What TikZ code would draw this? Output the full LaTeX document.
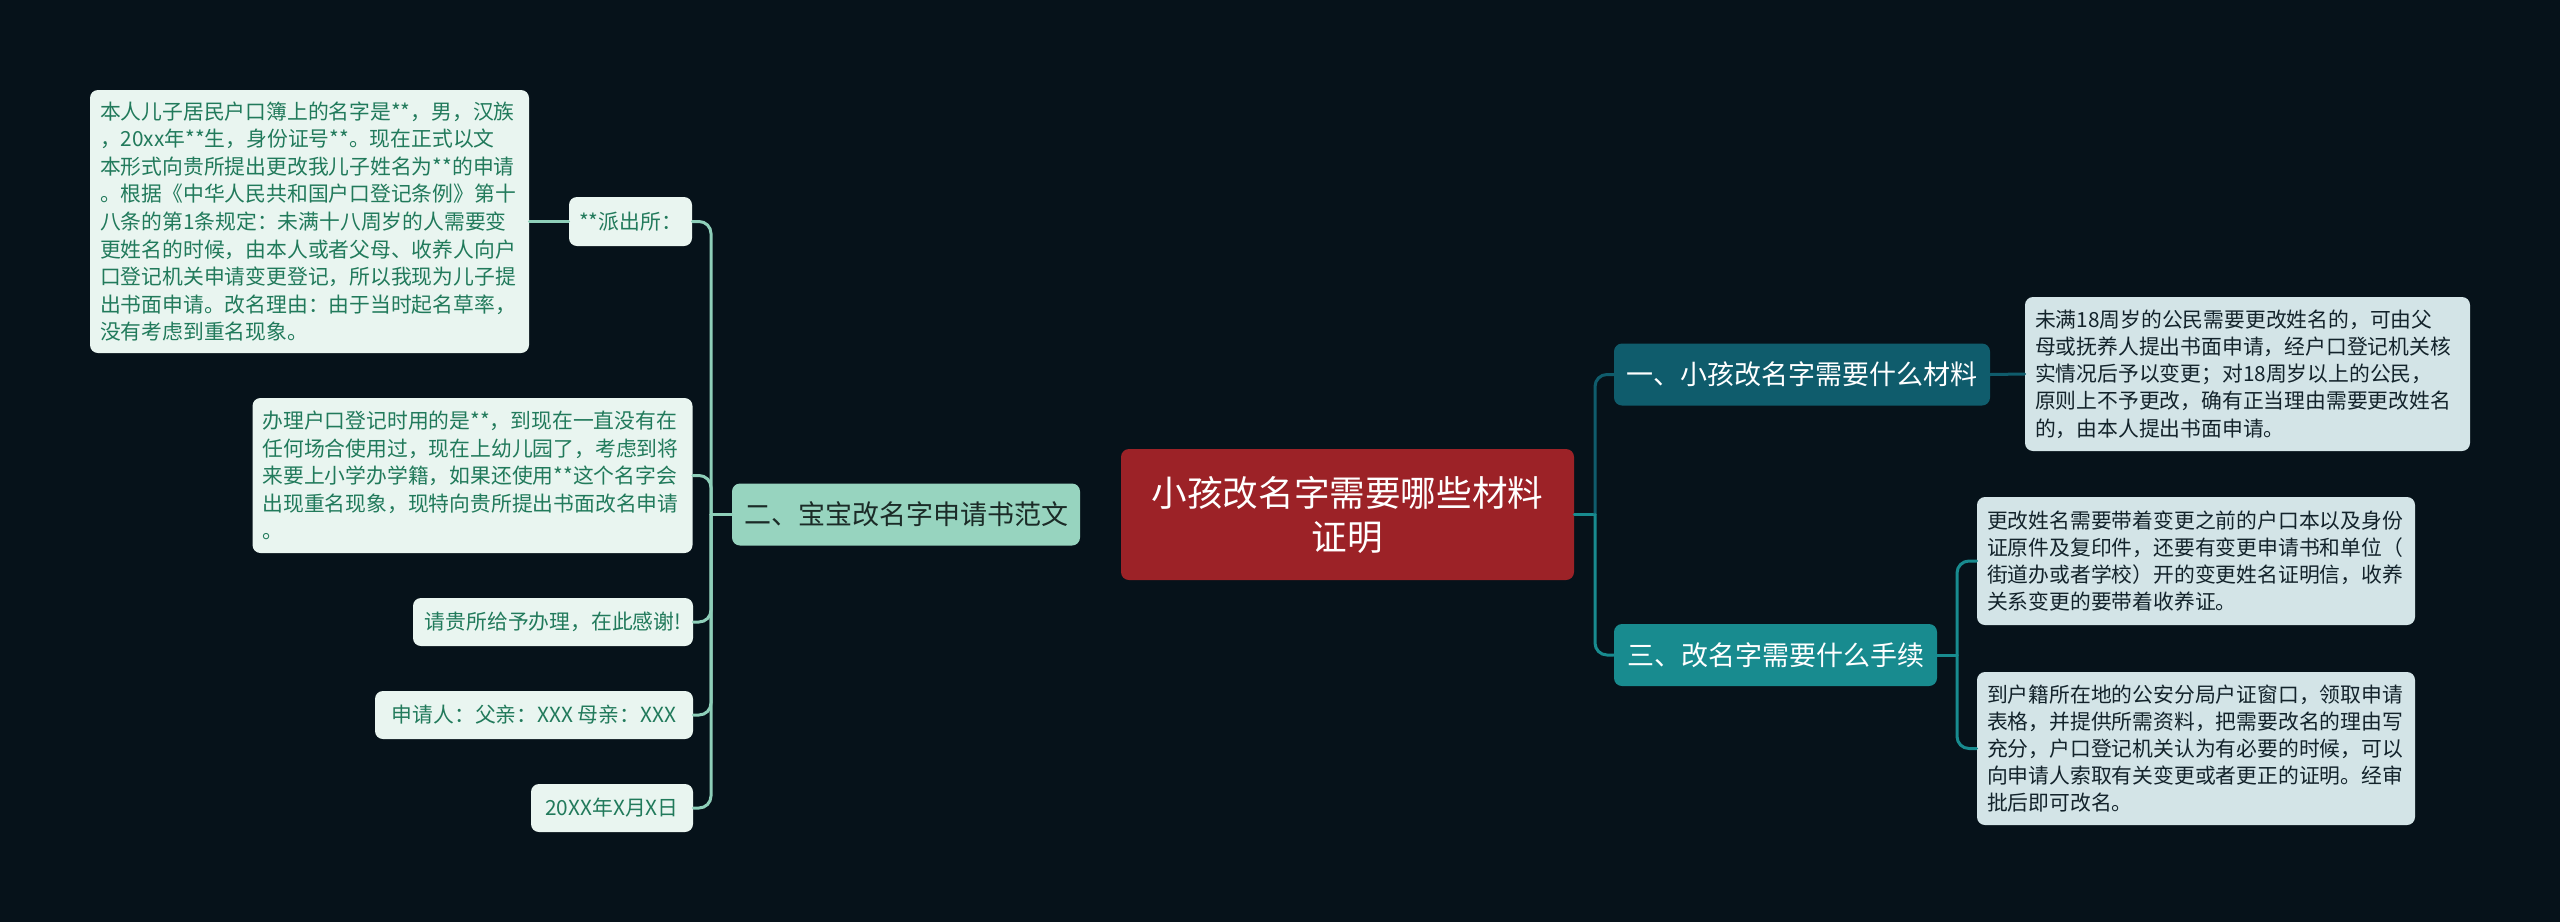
\documentclass[tikz,border=0pt]{standalone}
\usepackage{fontspec}
\setmainfont{Noto Sans CJK SC}
\definecolor{MapPaper}{HTML}{06121A}
\definecolor{MapRoot}{HTML}{9C2227}
\definecolor{MapMint}{HTML}{97D4BF}
\definecolor{MapMintLine}{HTML}{8ECFB9}
\definecolor{MapMintLeaf}{HTML}{E9F5F0}
\definecolor{MapMintInk}{HTML}{217A5B}
\definecolor{MapBranchInk}{HTML}{1B2B27}
\definecolor{MapDeep}{HTML}{0F5C6C}
\definecolor{MapTeal}{HTML}{188B8F}
\definecolor{MapBlueLeaf}{HTML}{D3E4E7}
\definecolor{MapBlueInk}{HTML}{13232B}
\tikzset{
    map/diagram/.style={
        x=0.5pt, y=-0.5pt,
        line cap=round,
        line join=round
    },
    map/box/.style={rounded corners=4pt, inner sep=0pt, draw=none},
    map/root/.style={
        map/box, fill=MapRoot, text=white, align=center,
        minimum width=226.5pt, minimum height=65.5pt,
        font=\fontsize{17.8}{22}\selectfont
    },
    map/branch/.style={
        map/box, minimum height=31pt,
        font=\fontsize{13.5}{16}\selectfont
    },
    map/leftleaf/.style={
        map/box, fill=MapMintLeaf, text=MapMintInk,
        font=\fontsize{10.4}{13.8}\selectfont
    },
    map/rightleaf/.style={
        map/box, fill=MapBlueLeaf, text=MapBlueInk,
        font=\fontsize{10.4}{13.6}\selectfont
    },
    map/para/.style={align=left, inner xsep=5pt, text width=#1},
    map/mintline/.style={draw=MapMintLine, line width=1.5pt},
    map/deepline/.style={draw=MapDeep, line width=1.5pt},
    map/tealline/.style={draw=MapTeal, line width=1.5pt}
}
\begin{document}
\begin{tikzpicture}[map/diagram]
    \fill[MapPaper] (0,0) rectangle (2560,922);
    \useasboundingbox (0,0) rectangle (2560,922);

    \node[map/root] (root) at (1347.5,514.5) {小孩改名字需要哪些材料\\证明};

    \node[map/branch, fill=MapMint, text=MapBranchInk, minimum width=174pt]
        (b2) at (906,514.5) {二、宝宝改名字申请书范文};
    \node[map/branch, fill=MapDeep, text=white, minimum width=188pt]
        (b1) at (1802,374.5) {一、小孩改名字需要什么材料};
    \node[map/branch, fill=MapTeal, text=white, minimum width=161.5pt]
        (b3) at (1775.5,655) {三、改名字需要什么手续};

    % left side: letter to the police station
    \node[map/leftleaf, map/para=209.5pt, minimum height=131.5pt] (l1) at (309.5,221.5)
        {本人儿子居民户口簿上的名字是**，男，汉族\\
         ，20xx年**生，身份证号**。现在正式以文\\
         本形式向贵所提出更改我儿子姓名为**的申请\\
         。根据《中华人民共和国户口登记条例》第十\\
         八条的第1条规定：未满十八周岁的人需要变\\
         更姓名的时候，由本人或者父母、收养人向户\\
         口登记机关申请变更登记，所以我现为儿子提\\
         出书面申请。改名理由：由于当时起名草率，\\
         没有考虑到重名现象。};
    \node[map/leftleaf, minimum width=61.5pt, minimum height=24.5pt] (p) at (630.5,221.5)
        {**派出所：};
    \node[map/leftleaf, map/para=210pt, minimum height=77.5pt] (l2) at (472.5,475.5)
        {办理户口登记时用的是**，到现在一直没有在\\
         任何场合使用过，现在上幼儿园了，考虑到将\\
         来要上小学办学籍，如果还使用**这个名字会\\
         出现重名现象，现特向贵所提出书面改名申请\\
         。};
    \node[map/leftleaf, minimum width=140pt, minimum height=24pt] (s1) at (553,622)
        {请贵所给予办理，在此感谢!};
    \node[map/leftleaf, minimum width=159pt, minimum height=24pt] (s2) at (534,715)
        {申请人：父亲：XXX 母亲：XXX};
    \node[map/leftleaf, minimum width=81pt, minimum height=24pt] (s3) at (612,808)
        {20XX年X月X日};

    % right side
    \node[map/rightleaf, map/para=212.5pt, minimum height=77pt] (r1) at (2247.5,374)
        {未满18周岁的公民需要更改姓名的，可由父\\
         母或抚养人提出书面申请，经户口登记机关核\\
         实情况后予以变更；对18周岁以上的公民，\\
         原则上不予更改，确有正当理由需要更改姓名\\
         的，由本人提出书面申请。};
    \node[map/rightleaf, map/para=209pt, minimum height=64pt] (r3a) at (2196,561)
        {更改姓名需要带着变更之前的户口本以及身份\\
         证原件及复印件，还要有变更申请书和单位（\\
         街道办或者学校）开的变更姓名证明信，收养\\
         关系变更的要带着收养证。};
    \node[map/rightleaf, map/para=209pt, minimum height=76.5pt] (r3b) at (2196,748.5)
        {到户籍所在地的公安分局户证窗口，领取申请\\
         表格，并提供所需资料，把需要改名的理由写\\
         充分，户口登记机关认为有必要的时候，可以\\
         向申请人索取有关变更或者更正的证明。经审\\
         批后即可改名。};

    % connectors
    \coordinate (tl) at (711,514.5);
    \coordinate (tr) at (1595,514.5);
    \coordinate (tr3) at (1957,655);
    \draw[map/mintline] (b2.west) -- (tl);
    \foreach \n in {p,l2,s1,s2,s3}
        \draw[map/mintline, rounded corners=6pt] (tl) |- (\n.east);
    \draw[map/mintline] (l1.east) -- (p.west);

    \draw[map/tealline] (root.east) -- (tr);
    \draw[map/deepline, rounded corners=6pt] (tr) |- (b1.west);
    \draw[map/tealline, rounded corners=6pt] (tr) |- (b3.west);
    \draw[map/deepline] (b1.east) -- (r1.west);
    \draw[map/tealline] (b3.east) -- (tr3);
    \foreach \n in {r3a,r3b}
        \draw[map/tealline, rounded corners=6pt] (tr3) |- (\n.west);
\end{tikzpicture}
\end{document}
